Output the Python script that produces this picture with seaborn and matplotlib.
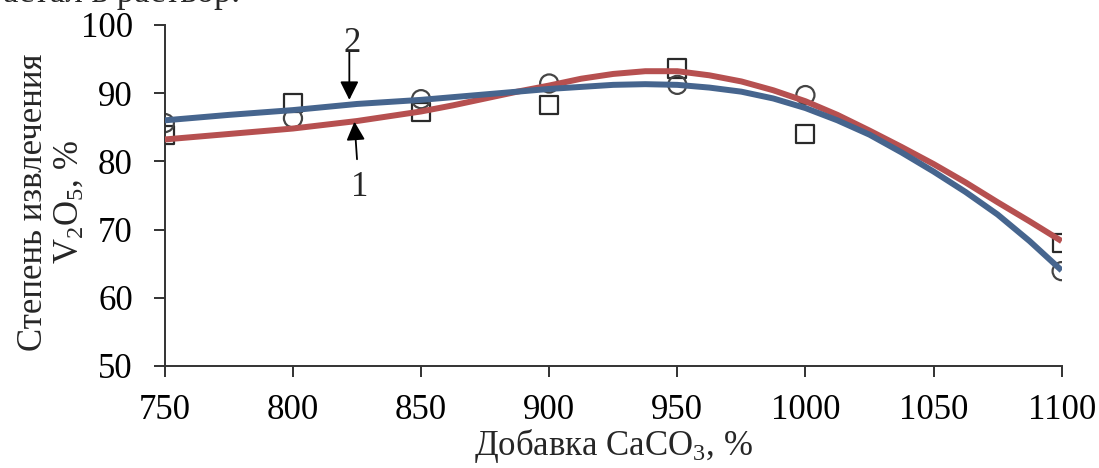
import numpy as np
import pandas as pd
import matplotlib
matplotlib.use('Agg')
import matplotlib.pyplot as plt
import seaborn as sns

caco3 = [750, 800, 850, 900, 950, 1000, 1100]
series1 = [83.8, 88.5, 87.2, 88.3, 93.6, 84.0, 68.0]   # кривая 1, квадраты
series2 = [85.6, 86.3, 89.1, 91.4, 91.2, 89.7, 63.9]   # кривая 2, кружки

# сглаженные кривые
curve_x = [750, 775, 800, 825, 850, 862.5, 875, 887.5, 900, 912.5, 925, 937.5, 950,
           962.5, 975, 987.5, 1000, 1012.5, 1025, 1037.5, 1050, 1062.5, 1075,
           1087.5, 1100]
curve1 = [83.2, 84.0, 84.8, 85.9, 87.3, 88.2, 89.2, 90.2, 91.1, 92.1, 92.8, 93.2, 93.2,
          92.6, 91.7, 90.4, 88.8, 86.8, 84.5, 82.1, 79.6, 76.9, 74.0,
          71.2, 68.3]
curve2 = [86.0, 86.8, 87.5, 88.4, 89.0, 89.4, 89.8, 90.2, 90.6, 90.9, 91.2, 91.3, 91.2,
          90.8, 90.2, 89.2, 87.8, 86.0, 83.9, 81.3, 78.5, 75.5, 72.2,
          68.3, 64.0]

x_ticks = [750, 800, 850, 900, 950, 1000, 1050, 1100]
y_ticks = [50, 60, 70, 80, 90, 100]

pts = pd.DataFrame({'x': caco3, 's1': series1, 's2': series2})
crv = pd.DataFrame({'x': curve_x, 'c1': curve1, 'c2': curve2})

sns.set_theme(style='white')
plt.rcParams['font.family'] = ['Liberation Serif', 'DejaVu Serif']
plt.rcParams['mathtext.fontset'] = 'custom'
plt.rcParams['mathtext.rm'] = 'Liberation Serif'
plt.rcParams['mathtext.it'] = 'Liberation Serif:italic'

fig = plt.figure(figsize=(10.99, 4.68), dpi=100)
ax = fig.add_axes([0.150, 0.218, 0.816, 0.729])

red = '#b65050'
blue = '#46658e'
fs = 25

# маркеры
sns.scatterplot(data=pts, x='x', y='s1', marker='s', s=170, facecolor='none',
                edgecolor='#2a2a2a', linewidth=1.6, ax=ax, zorder=2)
sns.scatterplot(data=pts, x='x', y='s2', marker='o', s=170, facecolor='none',
                edgecolor='#444444', linewidth=1.6, ax=ax, zorder=2)

# кривые
sns.lineplot(data=crv, x='x', y='c1', color=red, lw=4.3, ax=ax, zorder=3,
             solid_joinstyle='round', solid_capstyle='butt')
sns.lineplot(data=crv, x='x', y='c2', color=blue, lw=4.3, ax=ax, zorder=4,
             solid_joinstyle='round', solid_capstyle='butt')

ax.set_xlim(750, 1100)
ax.set_ylim(50, 100)
ax.set_xticks(x_ticks)
ax.set_yticks(y_ticks)
ax.tick_params(axis='both', left=True, bottom=True, labelsize=fs, direction='out',
               length=8, width=1.3, colors='#222222')
ax.tick_params(axis='both', labelcolor='black')
ax.tick_params(axis='y', pad=15)
ax.tick_params(axis='x', pad=12)
for side in ['top', 'right']:
    ax.spines[side].set_visible(False)
for side in ['left', 'bottom']:
    ax.spines[side].set_color('#333333')
    ax.spines[side].set_linewidth(1.4)

ax.set_xlabel('Добавка CaCO$_3$, %', fontsize=fs, labelpad=0)
ax.set_ylabel('Степень извлечения\nV$_2$O$_5$, %', fontsize=fs, linespacing=1.1)
ax.yaxis.set_label_coords(-0.088, 0.48)

# подписи кривых
arrow = dict(arrowstyle='-|>', color='black', lw=1.3, mutation_scale=28,
             shrinkA=0, shrinkB=0)
ax.annotate('', xy=(822, 89.0), xytext=(822, 96.0), arrowprops=arrow)
ax.text(823, 97.3, '2', fontsize=fs, ha='center', va='center')
ax.annotate('', xy=(824, 85.8), xytext=(825, 80.3), arrowprops=arrow)
ax.text(826, 76.2, '1', fontsize=fs, ha='center', va='center')

# обрезанная строка текста над графиком
fig.text(240 / 1099, 1 - 2 / 468, 'астал в раствор.', fontsize=fs,
         ha='right', va='baseline')

fig.savefig('out.png', dpi=100, facecolor='white')
